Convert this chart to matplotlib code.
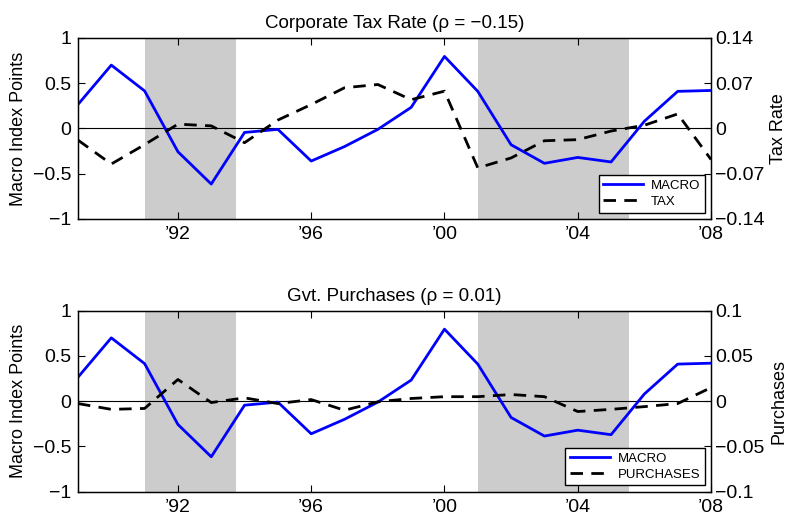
import matplotlib
matplotlib.use("Agg")
import matplotlib.pyplot as plt
import numpy as np

plt.rcParams['font.family'] = ['Liberation Sans', 'DejaVu Sans']

years = list(range(1989, 2009))
macro = [0.265, 0.70, 0.415, -0.257, -0.614, -0.044, -0.01, -0.36, -0.20, -0.01,
         0.233, 0.796, 0.41, -0.18, -0.385, -0.32, -0.37, 0.08, 0.41, 0.42]
tax = [-0.018, -0.055, -0.025, 0.0067, 0.004, -0.022, 0.013, 0.037, 0.063, 0.068,
       0.0445, 0.0577, -0.061, -0.0456, -0.019, -0.0173, -0.004, 0.005, 0.0225, -0.048]
purchases = [-0.0026, -0.009, -0.008, 0.024, -0.0015, 0.0037, -0.0026, 0.0018, -0.010, -0.0007,
             0.003, 0.005, 0.005, 0.0074, 0.005, -0.0114, -0.009, -0.006, -0.0026, 0.015]
recessions = [(1991.0, 1993.75), (2001.0, 2005.55)]
xticks = [1992, 1996, 2000, 2004, 2008]
xticklabels = ["\u201992", "\u201996", "\u201900", "\u201904", "\u201908"]
left_ticks = [-1, -0.5, 0, 0.5, 1]
left_ticklabels = ["\u22121", "\u22120.5", "0", "0.5", "1"]
tax_ticks = [-0.14, -0.07, 0, 0.07, 0.14]
tax_ticklabels = ["\u22120.14", "\u22120.07", "0", "0.07", "0.14"]
pur_ticks = [-0.1, -0.05, 0, 0.05, 0.1]
pur_ticklabels = ["\u22120.1", "\u22120.05", "0", "0.05", "0.1"]

panels = [
    dict(title="Corporate Tax Rate (\u03c1 = \u22120.15)", series=tax, label="TAX",
         rlabel="Tax Rate", rticks=tax_ticks, rticklabels=tax_ticklabels, rlim=0.14,
         pos=[0.0992, 0.5829, 0.8054, 0.3448], leg_anchor=(0.99, 0.035)),
    dict(title="Gvt. Purchases (\u03c1 = 0.01)", series=purchases, label="PURCHASES",
         rlabel="Purchases", rticks=pur_ticks, rticklabels=pur_ticklabels, rlim=0.1,
         pos=[0.0992, 0.0634, 0.8054, 0.3448], leg_anchor=(0.99, 0.035)),
]

fig = plt.figure(figsize=(7.86, 5.25), dpi=100)
fs = 14

for p in panels:
    ax = fig.add_axes(p["pos"])
    for a, b in recessions:
        ax.axvspan(a, b, color="#cccccc", lw=0, zorder=0)
    ax.axhline(0, color="black", lw=0.8, zorder=1)
    h1, = ax.plot(years, macro, color=(0, 0, 1), lw=2.0, label="MACRO", zorder=3)
    ax.set_xlim(1989, 2008)
    ax.set_ylim(-1, 1)
    ax.set_xticks(xticks)
    ax.set_xticklabels(xticklabels, fontsize=fs)
    ax.set_yticks(left_ticks)
    ax.set_yticklabels(left_ticklabels, fontsize=fs)
    ax.tick_params(axis="both", direction="in", length=5, width=0.8, top=True, pad=5)
    ax.set_ylabel("Macro Index Points", fontsize=13, labelpad=4)
    ax.set_title(p["title"], fontsize=13.5, pad=7)
    for s in ax.spines.values():
        s.set_linewidth(1.0)

    ax2 = ax.twinx()
    h2, = ax2.plot(years, p["series"], color="black", lw=2.0, ls=(0, (4.5, 3)),
                   label=p["label"], zorder=3)
    ax2.set_ylim(-p["rlim"], p["rlim"])
    ax2.set_yticks(p["rticks"])
    ax2.set_yticklabels(p["rticklabels"], fontsize=fs)
    ax2.tick_params(axis="y", direction="in", length=5, width=0.8, pad=3)
    ax2.set_ylabel(p["rlabel"], fontsize=13, labelpad=4)
    leg = ax2.legend([h1, h2], ["MACRO", p["label"]], loc="lower right",
                     bbox_to_anchor=p["leg_anchor"], fontsize=9.5, frameon=True,
                     fancybox=False, edgecolor="black", framealpha=1,
                     handlelength=3.0, borderpad=0.35, labelspacing=0.3,
                     handletextpad=0.6, borderaxespad=0)
    leg.get_frame().set_linewidth(1.0)

fig.savefig("out.png", dpi=100)
